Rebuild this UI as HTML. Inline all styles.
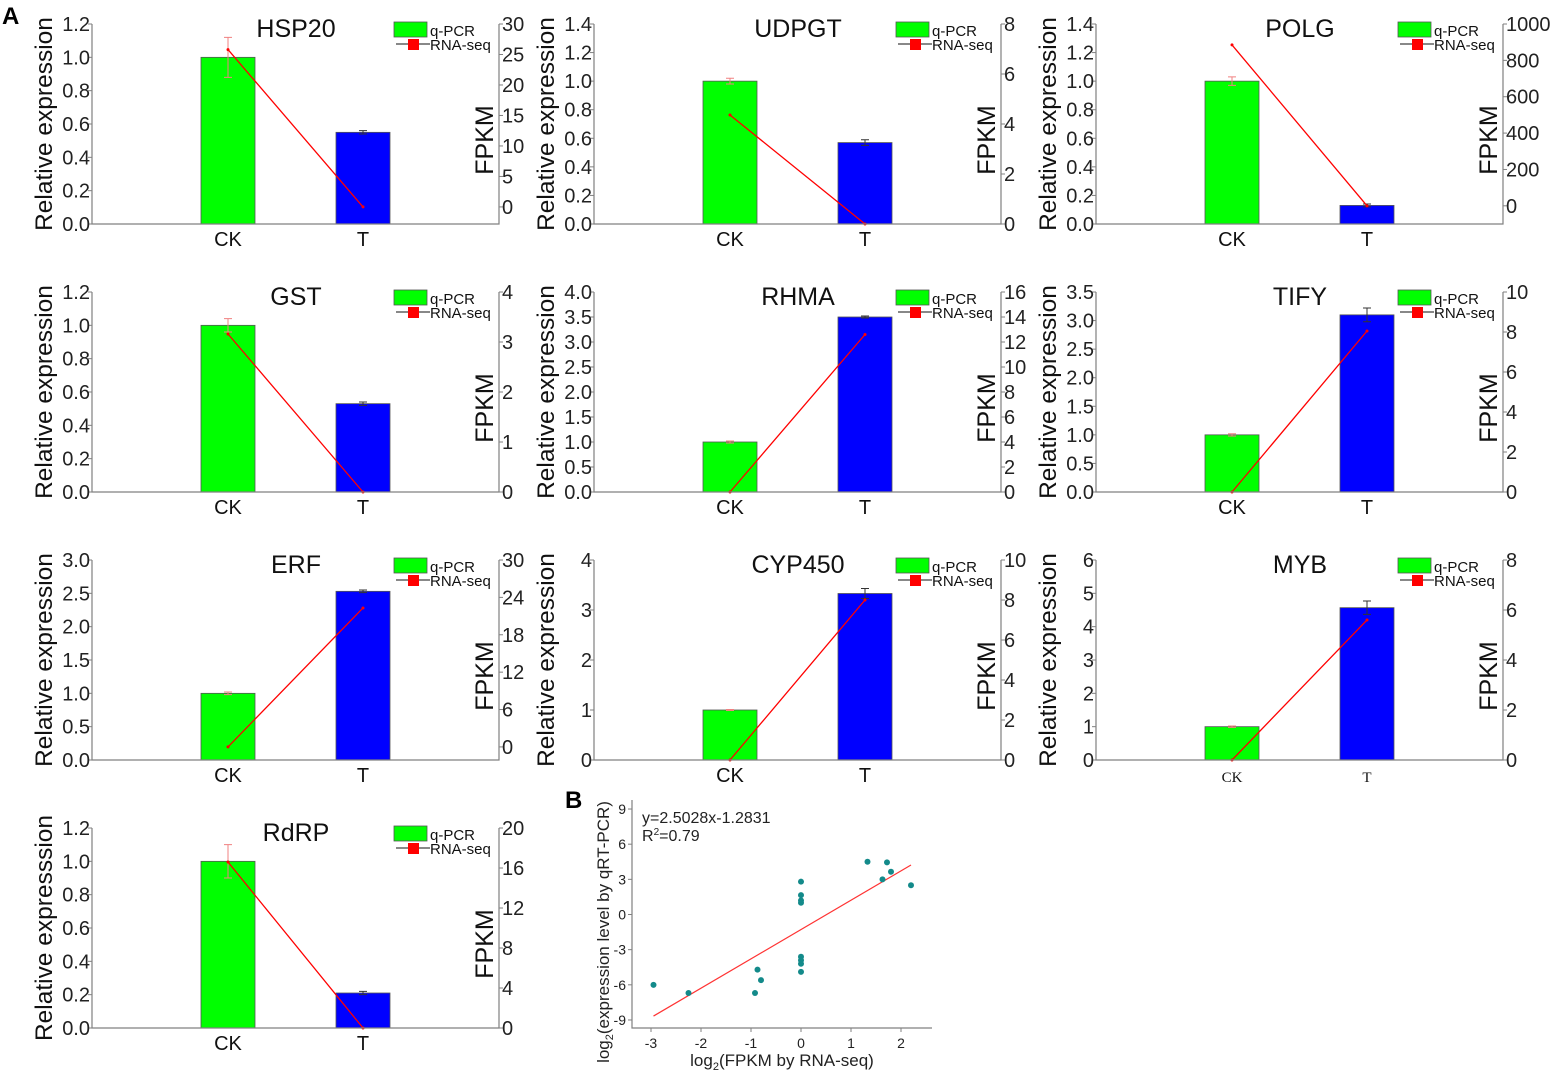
<!DOCTYPE html>
<html><head><meta charset="utf-8"><style>
html,body{margin:0;padding:0;background:#fff;}
svg{display:block;font-family:"Liberation Sans",Arial,sans-serif;}
</style></head><body>
<svg id="fig" width="1557" height="1077" viewBox="0 0 1557 1077"></svg>
<script>
const genes = ["HSP20","UDPGT","POLG","GST","RHMA","TIFY","ERF","CYP450","MYB","RdRP"];
const groups = ["CK","T"];
const qpcr = [[1.0,0.55],[1.0,0.57],[1.0,0.13],[1.0,0.53],[1.0,3.5],[1.0,3.1],[1.0,2.53],[1.0,3.33],[1.0,4.57],[1.0,0.21]];
const qpcrErr = [[0.12,0.01],[0.02,0.02],[0.03,0.01],[0.04,0.01],[0.02,0.02],[0.02,0.12],[0.02,0.02],[0.01,0.1],[0.02,0.2],[0.1,0.01]];
const rnaseq = [[25.8,0],[4.36,0],[885,0],[3.16,0],[0,12.6],[0,8.05],[0,22.3],[0,8.0],[0,5.6],[16.6,0]];
const leftMax = [1.2,1.4,1.4,1.2,4.0,3.5,3.0,4,6,1.2];
const leftStep = [0.2,0.2,0.2,0.2,0.5,0.5,0.5,1,1,0.2];
const leftDec = [1,1,1,1,1,1,1,0,0,1];
const rightMin = [-2.8,0,-100,0,0,0,-2.1,0,0,0];
const rightMax = [30,8,1000,4,16,10,30,10,8,20];
const rightStep = [5,2,200,1,2,2,6,2,2,4];
const yLabels = ["Relative expression","Relative expression","Relative expression","Relative expression","Relative expression","Relative expression","Relative expression","Relative expression","Relative expression","Relative expresssion"];

const scatterX = [-2.95,-2.25,-0.92,-0.87,-0.8,0,0,0,0,0,0,0,0,1.33,1.72,1.63,1.8,2.2];
const scatterY = [-6,-6.7,-6.7,-4.7,-5.6,2.8,1.65,1.2,1.0,-3.6,-3.9,-4.2,-4.9,4.5,4.45,3.0,3.65,2.5];
const xTicks = [-3,-2,-1,0,1,2];
const yTicks = [-9,-6,-3,0,3,6,9];
const fitSlope = 2.5028, fitIntercept = -1.2831;

const svg = document.getElementById('fig');
const NS = 'http://www.w3.org/2000/svg';
function mk(tag, attrs, parent, text){
  const e = document.createElementNS(NS, tag);
  for (const k in attrs) e.setAttribute(k, attrs[k]);
  if (text !== undefined) e.textContent = text;
  (parent||svg).appendChild(e);
  return e;
}
const AX = '#808080';

let t = mk('text',{x:2,y:24,'font-size':24,'font-weight':'bold'},svg,'A');



genes.forEach((g,i)=>{
  const col = i%3, row = Math.floor(i/3);
  const ox = col*502, oy = row*268;
  const L = 92+ox, R = 499+ox, T = 24+oy, B = 224+oy;
  const grp = mk('g',{});
  
  
  const yL = v => B - v/leftMax[i]*(B-T);
  const yR = v => B - (v-rightMin[i])/(rightMax[i]-rightMin[i])*(B-T);
  const xC = k => [228,363][k] + ox;
  const colors = ['#00ff00','#0000ff'];
  groups.forEach((gname,k)=>{
    const v = qpcr[i][k];
    const b = mk('rect',{x:xC(k)-27,y:yL(v),width:54,height:B-yL(v),fill:colors[k],stroke:'#555','stroke-width':0.8},grp);
    
    
    const e = qpcrErr[i][k];
    const ec = k===0 ? '#f08080' : '#333';
    const eb = mk('path',{d:`M${xC(k)},${yL(v+e)}V${yL(v-e)}M${xC(k)-4},${yL(v+e)}H${xC(k)+4}M${xC(k)-4},${yL(v-e)}H${xC(k)+4}`,stroke:ec,'stroke-width':1,fill:'none'},grp);
    
    
  });
  const ln = mk('polyline',{points:groups.map((_,k)=>xC(k)+','+yR(rnaseq[i][k])).join(' '),stroke:'#ff0000','stroke-width':1.3,fill:'none'},grp);
  
  
  groups.forEach((_,k)=>{
    const p = mk('circle',{cx:xC(k),cy:yR(rnaseq[i][k]),r:1.5,fill:'#ff0000'},grp);
    
    
  });
  const ax = mk('path',{d:`M${L},${T}V${B}H${R}V${T}`,stroke:AX,'stroke-width':1.2,fill:'none'},grp);
  
  
  const fs = 20;
  for (let v=0; v<=leftMax[i]+1e-9; v+=leftStep[i]){
    mk('line',{x1:L-4,x2:L,y1:yL(v),y2:yL(v),stroke:AX},grp);
    const tl = mk('text',{x:L-2,y:yL(v)+7,'font-size':fs,'text-anchor':'end',fill:'#222'},grp,v.toFixed(leftDec[i]));
    
    
  }
  for (let v=0; v<=rightMax[i]+1e-9; v+=rightStep[i]){
    mk('line',{x1:R,x2:R+4,y1:yR(v),y2:yR(v),stroke:AX},grp);
    const tl = mk('text',{x:R+3,y:yR(v)+7,'font-size':fs,fill:'#222'},grp,String(v));
    
    
  }
  groups.forEach((gname,k)=>{
    const serif = g==='MYB';
    const tl = mk('text',{x:xC(k),y:B+22,'font-size':serif?15:20,'text-anchor':'middle',fill:'#111','font-family':serif?'"Liberation Serif",serif':'"Liberation Sans",sans-serif'},grp,gname);
    
    
  });
  const yl = mk('text',{x:0,y:0,'font-size':24.5,'text-anchor':'middle',fill:'#111',transform:`translate(${ox+52},${(T+B)/2}) rotate(-90)`},grp,yLabels[i]);
  
  
  const yr = mk('text',{x:0,y:0,'font-size':25,'text-anchor':'middle',fill:'#111',transform:`translate(${R-6},${(T+B)/2+16}) rotate(-90)`},grp,'FPKM');
  
  
  const ti = mk('text',{x:ox+296,y:oy+37,'font-size':25,'text-anchor':'middle',fill:'#111'},grp,g);
  
  
  const lx = R-105, ly = T-2;
  const lg = mk('g',{},grp);
  
  
  mk('rect',{x:lx,y:ly,width:33,height:15,fill:'#00ff00',stroke:'#555','stroke-width':0.8},lg);
  mk('text',{x:lx+36,y:ly+14,'font-size':15,fill:'#111'},lg,'q-PCR');
  mk('line',{x1:lx+2,x2:lx+36,y1:ly+22,y2:ly+22,stroke:'#111'},lg);
  mk('rect',{x:lx+14,y:ly+17,width:11,height:11,fill:'#ff0000'},lg);
  mk('text',{x:lx+36,y:ly+28,'font-size':15,fill:'#111'},lg,'RNA-seq');
});

const sg = mk('g',{});


const SL=632, SR=932, ST=800, SB=1028;
const sx = v => 651 + (v+3)*50;
const sy = v => 914.5 - v*11.72;
let bl = mk('text',{x:565,y:808,'font-size':24,'font-weight':'bold'},sg,'B');


const sax = mk('path',{d:`M${SL},${ST}V${SB}H${SR}`,stroke:AX,'stroke-width':1.2,fill:'none'},sg);


xTicks.forEach(v=>{
  mk('line',{x1:sx(v),x2:sx(v),y1:SB,y2:SB+4,stroke:AX},sg);
  const tl = mk('text',{x:sx(v),y:SB+20,'font-size':14,'text-anchor':'middle',fill:'#222'},sg,String(v));
  
  
});
yTicks.forEach(v=>{
  mk('line',{x1:SL-4,x2:SL,y1:sy(v),y2:sy(v),stroke:AX},sg);
  const tl = mk('text',{x:SL-6,y:sy(v)+5,'font-size':14,'text-anchor':'end',fill:'#222'},sg,String(v));
  
  
});
const fx0 = Math.min(...scatterX), fx1 = Math.max(...scatterX);
const fl = mk('line',{x1:sx(fx0),y1:sy(fitSlope*fx0+fitIntercept),x2:sx(fx1),y2:sy(fitSlope*fx1+fitIntercept),stroke:'#ff3333','stroke-width':1.2},sg);


scatterX.forEach((xv,k)=>{
  const c = mk('circle',{cx:sx(xv),cy:sy(scatterY[k]),r:3,fill:'#138a8a'},sg);
  
  
});
let eq = mk('text',{x:642,y:823,'font-size':16,fill:'#222'},sg,'y=2.5028x-1.2831');


let r2 = mk('text',{x:642,y:841,'font-size':16,fill:'#222'},sg);


r2.innerHTML = 'R<tspan dy="-6" font-size="10">2</tspan><tspan dy="6">=0.79</tspan>';
let xt = mk('text',{x:782,y:1066,'font-size':17,'text-anchor':'middle',fill:'#222'},sg);


xt.innerHTML = 'log<tspan dy="4" font-size="11">2</tspan><tspan dy="-4">(FPKM by RNA-seq)</tspan>';
let yt = mk('text',{x:0,y:0,'font-size':17,'text-anchor':'middle',fill:'#222',transform:'translate(609,932) rotate(-90)'},sg);


yt.innerHTML = 'log<tspan dy="4" font-size="11">2</tspan><tspan dy="-4">(expression level by qRT-PCR)</tspan>';
</script>
</body></html>
